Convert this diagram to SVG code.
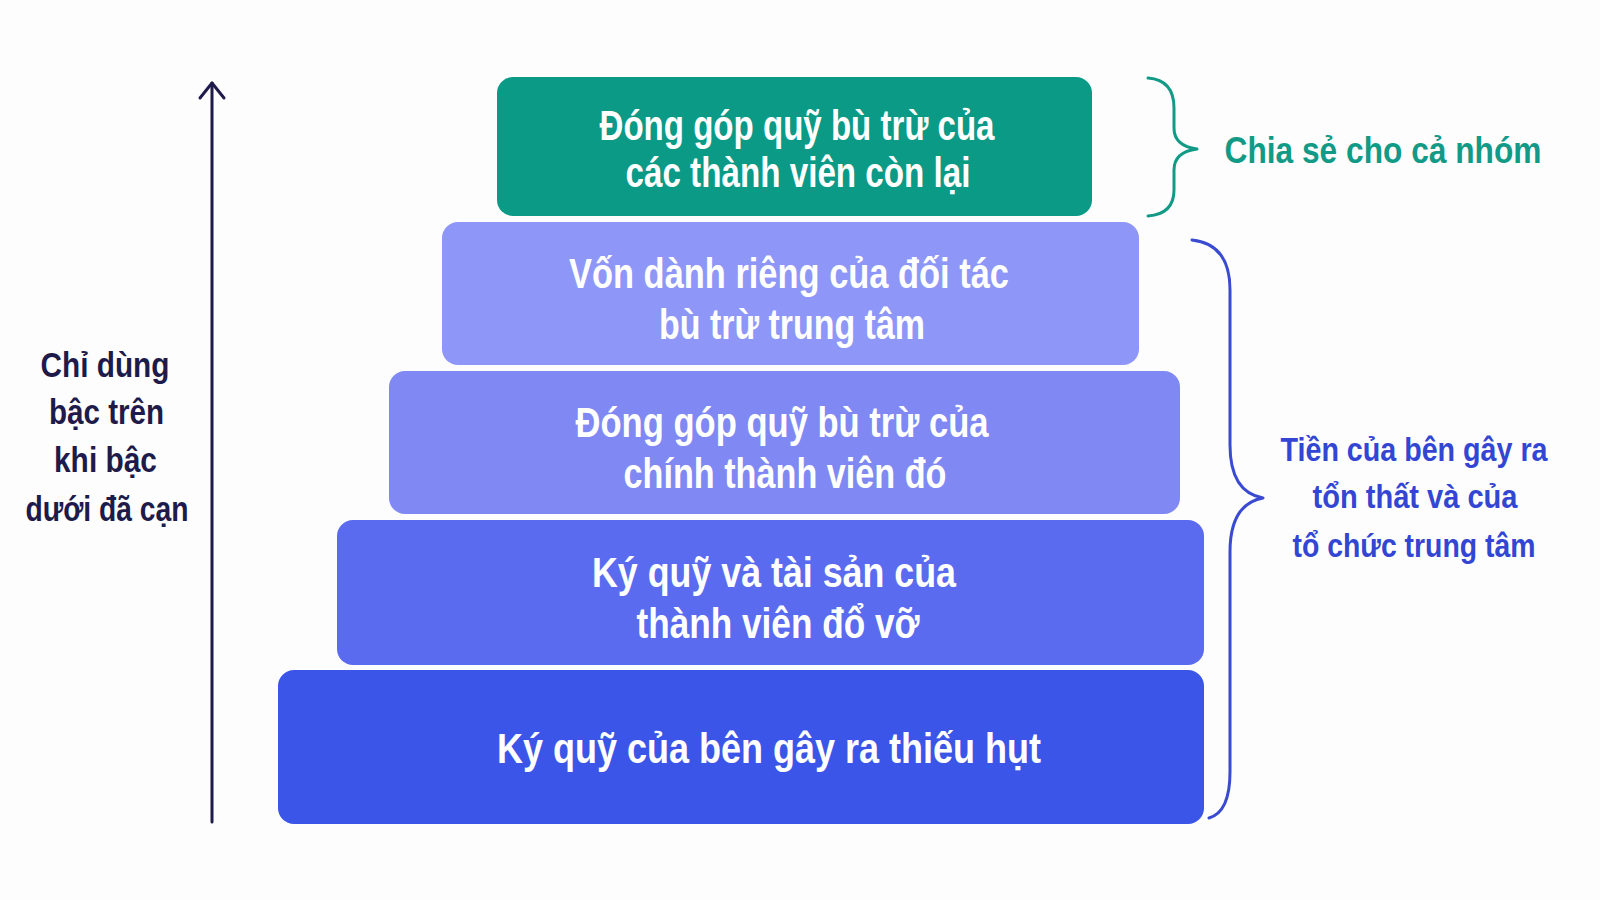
<svg xmlns="http://www.w3.org/2000/svg" width="1600" height="900" viewBox="0 0 1600 900">
<defs>
<style>
.box text{font-family:"Liberation Sans",Arial,sans-serif;font-weight:bold;font-size:42px;fill:#ffffff;text-anchor:middle}
.side{font-family:"Liberation Sans",Arial,sans-serif;font-weight:bold;font-size:35px;text-anchor:middle}
.right{font-family:"Liberation Sans",Arial,sans-serif;font-weight:bold;font-size:34px;text-anchor:middle}
</style>
</defs>
<rect width="1600" height="900" fill="#fdfdfe"/>
<g id="tier5" class="box">
<rect x="278" y="670" width="926" height="154" rx="16" fill="#3b55e8"/>
<text x="769" y="763" textLength="544" lengthAdjust="spacingAndGlyphs">Ký quỹ của bên gây ra thiếu hụt</text>
</g>
<g id="tier4" class="box">
<rect x="337" y="520" width="867" height="145" rx="16" fill="#5a6bf0"/>
<text x="774" y="587" textLength="364" lengthAdjust="spacingAndGlyphs">Ký quỹ và tài sản của</text>
<text x="778" y="638" textLength="283" lengthAdjust="spacingAndGlyphs">thành viên đổ vỡ</text>
</g>
<g id="tier3" class="box">
<rect x="389" y="371" width="791" height="143" rx="16" fill="#8088f3"/>
<text x="782" y="437" textLength="413" lengthAdjust="spacingAndGlyphs">Đóng góp quỹ bù trừ của</text>
<text x="785" y="488" textLength="323" lengthAdjust="spacingAndGlyphs">chính thành viên đó</text>
</g>
<g id="tier2" class="box">
<rect x="442" y="222" width="697" height="143" rx="16" fill="#8e97f7"/>
<text x="789" y="288" textLength="440" lengthAdjust="spacingAndGlyphs">Vốn dành riêng của đối tác</text>
<text x="792" y="339" textLength="266" lengthAdjust="spacingAndGlyphs">bù trừ trung tâm</text>
</g>
<g id="tier1" class="box">
<rect x="497" y="77" width="595" height="139" rx="16" fill="#0a9a86"/>
<text x="797" y="140" textLength="395" lengthAdjust="spacingAndGlyphs">Đóng góp quỹ bù trừ của</text>
<text x="798" y="187" textLength="345" lengthAdjust="spacingAndGlyphs">các thành viên còn lại</text>
</g>
<g id="connectors" fill="none" stroke-linecap="round" stroke-linejoin="round">
<path d="M212 822 V83" stroke="#1e1b4b" stroke-width="3"/>
<path d="M200 98 L212 83 L224 98" stroke="#1e1b4b" stroke-width="3"/>
<path d="M1148 78 Q1174 80 1174 108 V128 Q1174 146 1197 149 Q1174 152 1174 170 V190 Q1174 214 1148 216" stroke="#129a86" stroke-width="3"/>
<path d="M1192 240 Q1230 244 1230 290 V445 Q1230 492 1263 498 Q1230 504 1230 552 V772 Q1230 812 1209 818" stroke="#3a4bd2" stroke-width="3"/>
</g>
<g id="label-left" fill="#1e1b4b">
<text class="side" x="105" y="377" textLength="129" lengthAdjust="spacingAndGlyphs">Chỉ dùng</text>
<text class="side" x="106.5" y="424" textLength="115" lengthAdjust="spacingAndGlyphs">bậc trên</text>
<text class="side" x="105.5" y="472" textLength="103" lengthAdjust="spacingAndGlyphs">khi bậc</text>
<text class="side" x="107" y="521" textLength="163" lengthAdjust="spacingAndGlyphs">dưới đã cạn</text>
</g>
<g id="label-shared">
<text x="1224.5" y="163" fill="#129a86" style="font-family:'Liberation Sans',Arial,sans-serif;font-weight:bold;font-size:36px;text-anchor:start" textLength="317" lengthAdjust="spacingAndGlyphs">Chia sẻ cho cả nhóm</text>
</g>
<g id="label-own" fill="#3346d3">
<text class="right" x="1414" y="461" textLength="267" lengthAdjust="spacingAndGlyphs">Tiền của bên gây ra</text>
<text class="right" x="1415" y="508" textLength="205" lengthAdjust="spacingAndGlyphs">tổn thất và của</text>
<text class="right" x="1414" y="557" textLength="243" lengthAdjust="spacingAndGlyphs">tổ chức trung tâm</text>
</g>
</svg>
